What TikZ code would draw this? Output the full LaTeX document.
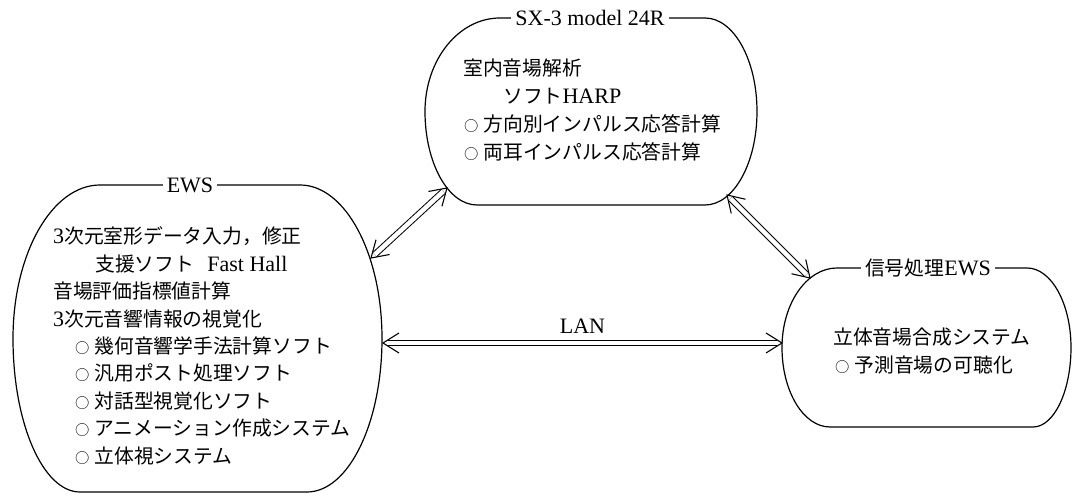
\documentclass[tikz,border=0pt]{standalone}
\usepackage{fontspec}
\usepackage{graphicx}
\setmainfont{Liberation Serif}
\newfontfamily\cjk[Scale=0.9]{Noto Sans CJK JP}
\usetikzlibrary{calc}
\newcommand\J[1]{{\cjk #1}}
\newcommand\maru{\makebox[1.1em][c]{\J{\scalebox{0.72}{○}}}}
\newcommand\vhead[2]{%
  \draw[headline] ($($(#1)!16pt!(#2)$)!10pt!90:(#2)$) -- (#1)
     -- ($($(#1)!16pt!(#2)$)!10pt!-90:(#2)$);}
\begin{document}
\begin{tikzpicture}[x=1pt,y=1pt,
  box/.style={line width=1.2pt},
  title/.style={fill=white,inner sep=4pt,font=\fontsize{22}{22}\selectfont},
  txt/.style={anchor=base west,inner sep=0pt,font=\fontsize{22}{22}\selectfont},
  link/.style={double,double distance=4.5pt,line width=1pt,shorten <=5pt,shorten >=5pt},
  headline/.style={line width=1.1pt,line join=miter}]
\useasboundingbox (0,0) rectangle (1072,495);

% --- SX-3 box
\draw[box] (500,477) -- (705,477)
  arc[start angle=90,end angle=-90,x radius=52pt,y radius=93.5pt]
  -- (477,290)
  arc[start angle=270,end angle=180,x radius=52pt,y radius=93.5pt]
  arc[start angle=180,end angle=90,x radius=75pt,y radius=93.5pt] -- cycle;
\node[title] (sxt) at (590,477) {SX-3 model 24R};
\node[txt] (sx1) at (463,419.5) {\J{室内音場解析}};
\node[txt] (sx2) at (503,391.5) {\J{ソフト}HARP};
\node[txt] (sx3) at (459,363.5) {\maru\J{方向別インパルス応答計算}};
\node[txt] (sx4) at (459,335.5) {\maru\J{両耳インパルス応答計算}};

% --- EWS box
\draw[box] (100,310) -- (300,310)
  arc[start angle=90,end angle=0,x radius=82pt,y radius=153.5pt]
  arc[start angle=0,end angle=-90,x radius=75pt,y radius=153.5pt]
  -- (80,3)
  arc[start angle=270,end angle=180,x radius=67pt,y radius=153.5pt]
  arc[start angle=180,end angle=90,x radius=87pt,y radius=153.5pt] -- cycle;
\node[title] (ewst) at (190,310) {EWS};
\node[txt] (e1) at (53,251) {3\J{次元室形データ入力，修正}};
\node[txt] (e2) at (95,223.6) {\J{支援ソフト}\hspace{0.6em}Fast Hall};
\node[txt] (e3) at (53,196.2) {\J{音場評価指標値計算}};
\node[txt] (e4) at (53,168.8) {3\J{次元音響情報の視覚化}};
\node[txt] (e5) at (70,141.4) {\maru\J{幾何音響学手法計算ソフト}};
\node[txt] (e6) at (70,114) {\maru\J{汎用ポスト処理ソフト}};
\node[txt] (e7) at (70,86.6) {\maru\J{対話型視覚化ソフト}};
\node[txt] (e8) at (70,59.2) {\maru\J{アニメーション作成システム}};
\node[txt] (e9) at (70,31.8) {\maru\J{立体視システム}};

% --- signal processing EWS box
\draw[box] (837,227) -- (1027,227)
  arc[start angle=90,end angle=0,x radius=44pt,y radius=79.5pt]
  arc[start angle=0,end angle=-90,x radius=38pt,y radius=79.5pt]
  -- (830,68)
  arc[start angle=270,end angle=180,x radius=48pt,y radius=79.5pt]
  arc[start angle=180,end angle=90,x radius=55pt,y radius=79.5pt] -- cycle;
\node[title] (sigt) at (928,227) {\J{信号処理}EWS};
\node[txt] (s1) at (833,150.5) {\J{立体音場合成システム}};
\node[txt] (s2) at (830,122.5) {\maru\J{予測音場の可聴化}};

% --- connectors
\coordinate (ewsNE) at (371,237);
\coordinate (sxSW) at (447,307);
\coordinate (sxSE) at (727,300);
\coordinate (sigNW) at (810,217);
\coordinate (ewsE) at (383,152);
\coordinate (sigW) at (782,152);
\draw[link] (ewsNE) -- (sxSW);
\vhead{ewsNE}{sxSW}\vhead{sxSW}{ewsNE}
\draw[link] (sxSE) -- (sigNW);
\vhead{sxSE}{sigNW}\vhead{sigNW}{sxSE}
\draw[link] (ewsE) -- node[above=6pt,font=\fontsize{22}{22}\selectfont] (lan) {LAN} (sigW);
\vhead{ewsE}{sigW}\vhead{sigW}{ewsE}
\end{tikzpicture}
\end{document}
